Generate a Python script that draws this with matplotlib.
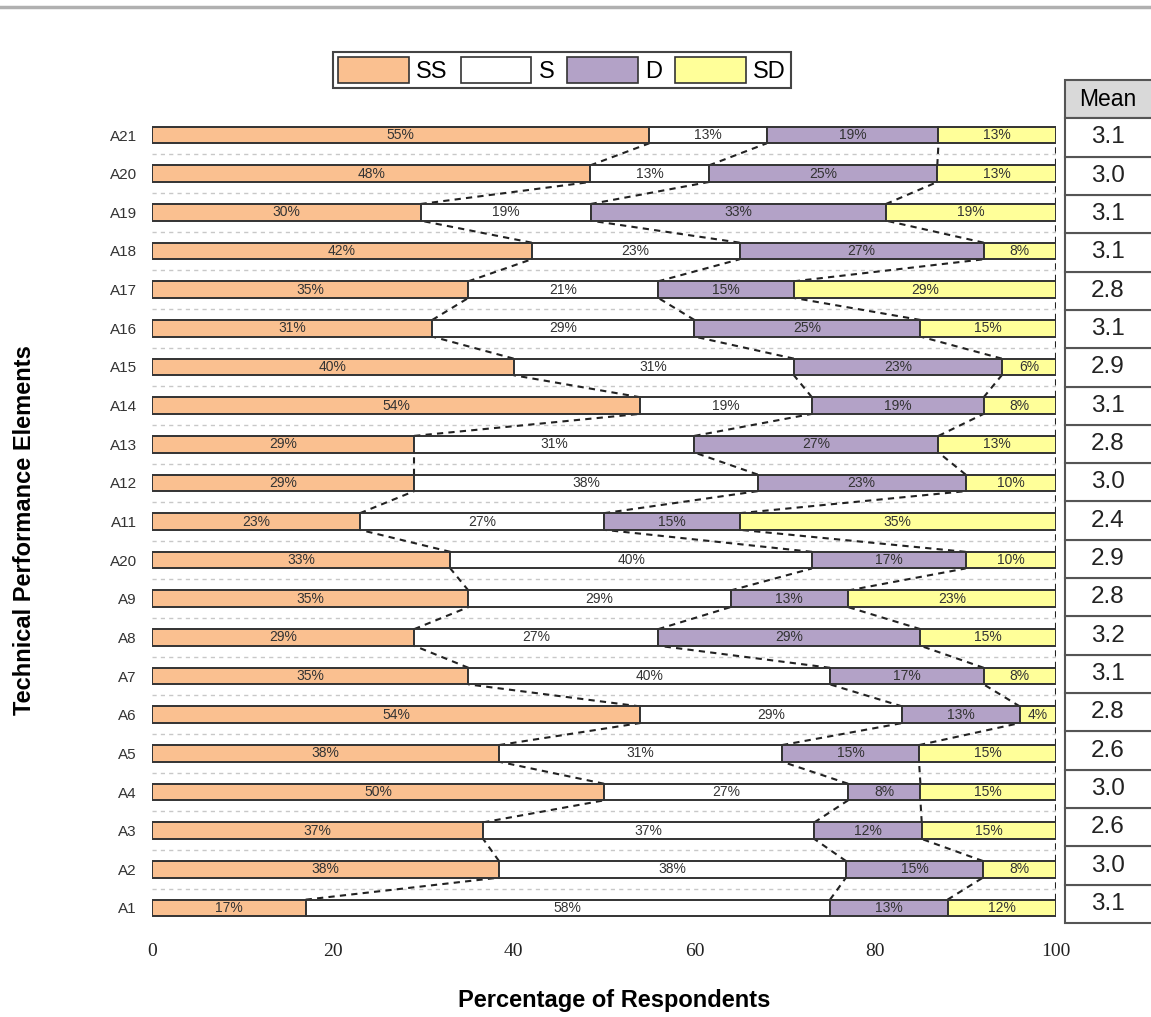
import numpy as np
import matplotlib
matplotlib.use('Agg')
import matplotlib.pyplot as plt
from matplotlib.patches import Rectangle, Patch
from matplotlib.lines import Line2D

# Donnees (de bas en haut : A1 -> A21)
elements = ['A1', 'A2', 'A3', 'A4', 'A5', 'A6', 'A7', 'A8', 'A9', 'A20',
            'A11', 'A12', 'A13', 'A14', 'A15', 'A16', 'A17', 'A18', 'A19', 'A20', 'A21']
ss = [17, 38, 37, 50, 38, 54, 35, 29, 35, 33, 23, 29, 29, 54, 40, 31, 35, 42, 30, 48, 55]
s = [58, 38, 37, 27, 31, 29, 40, 27, 29, 40, 27, 38, 31, 19, 31, 29, 21, 23, 19, 13, 13]
d = [13, 15, 12, 8, 15, 13, 17, 29, 13, 17, 15, 23, 27, 19, 23, 25, 15, 27, 33, 25, 19]
sd = [12, 8, 15, 15, 15, 4, 8, 15, 23, 10, 35, 10, 13, 8, 6, 15, 29, 8, 19, 13, 13]
moyennes = [3.1, 3.0, 2.6, 3.0, 2.6, 2.8, 3.1, 3.2, 2.8, 2.9, 2.4,
            3.0, 2.8, 3.1, 2.9, 3.1, 2.8, 3.1, 3.1, 3.0, 3.1]

categories = ['SS', 'S', 'D', 'SD']
couleurs = ['#FAC090', '#FFFFFF', '#B3A2C7', '#FFFF99']

W, H = 1151, 1017


def creer_graphe(nom_fichier_png):
    plt.rcParams['font.family'] = ['Liberation Sans', 'DejaVu Sans']
    fig = plt.figure(figsize=(W / 100, H / 100), dpi=100)

    # ligne grise en haut
    fig.add_artist(Line2D([0, 1], [1 - 7 / H, 1 - 7 / H], color='#b0b0b0', lw=2.5,
                          transform=fig.transFigure))

    bas, haut = 927.3, 115.7
    ax = fig.add_axes([152 / W, 1 - bas / H, 904 / W, (bas - haut) / H])

    valeurs = np.array([ss, s, d, sd], dtype=float).T
    valeurs = valeurs / valeurs.sum(axis=1, keepdims=True) * 100
    n = len(elements)
    y = np.arange(n)
    h = 0.43

    gauche = np.zeros(n)
    for k, cat in enumerate(categories):
        ax.barh(y, valeurs[:, k], left=gauche, height=h, color=couleurs[k],
                edgecolor='#333333', linewidth=1.4, zorder=3)
        brut = [ss, s, d, sd][k]
        for i in range(n):
            ax.text(gauche[i] + valeurs[i, k] / 2, y[i], f"{brut[i]}%", ha='center',
                    va='center', fontsize=10, color='#333333', zorder=4)
        gauche = gauche + valeurs[:, k]

    # lignes de liaison en pointilles
    cumul = np.cumsum(valeurs, axis=1)
    for k in range(4):
        for i in range(n - 1):
            ax.plot([cumul[i, k], cumul[i + 1, k]], [y[i] + h / 2, y[i + 1] - h / 2],
                    color='#222222', lw=1.5, ls=(0, (3, 2.5)), zorder=2)

    # grille horizontale
    for i in range(n - 1):
        ax.axhline(i + 0.5, color='#c8c8c8', lw=1, ls=(0, (3, 3)), zorder=1)

    ax.set_xlim(0, 100)
    ax.set_ylim(-0.5, n - 0.5)
    ax.set_yticks(y)
    ax.set_yticklabels(elements, fontsize=11, color='#333333')
    ax.set_xticks([0, 20, 40, 60, 80, 100])
    ax.set_xticklabels(['0', '20', '40', '60', '80', '100'], fontsize=14,
                       family='Liberation Serif', color='#222222')
    ax.tick_params(length=0)
    ax.tick_params(axis='y', pad=11)
    ax.tick_params(axis='x', pad=11)
    for sp in ax.spines.values():
        sp.set_visible(False)

    fig.text(614 / W, 1 - 1000 / H, 'Percentage of Respondents', ha='center', va='center',
             fontsize=17, fontweight='bold')
    fig.text(25 / W, 1 - 530 / H, 'Technical Performance Elements', ha='center', va='center',
             rotation=90, fontsize=17, fontweight='bold')

    # legende
    poignees = [Patch(facecolor=c, edgecolor='#333333', linewidth=1.2) for c in couleurs]
    leg = fig.legend(poignees, categories, loc='center', bbox_to_anchor=(562 / W, 1 - 70 / H),
                     ncol=4, fontsize=17, handlelength=3.0, handleheight=1.3,
                     handletextpad=0.3, columnspacing=0.55, borderpad=0.2,
                     borderaxespad=0, fancybox=False, edgecolor='#444444', framealpha=1)
    leg.get_frame().set_linewidth(1.5)

    # tableau des moyennes
    tx = fig.add_axes([1065 / W, 1 - 923 / H, 100 / W, (923 - 80) / H])
    tx.set_xlim(0, 100)
    tx.set_ylim(0, n + 1)
    tx.axis('off')
    tx.add_patch(Rectangle((0, n), 100, 1, facecolor='#d9d9d9', edgecolor='#555555',
                           lw=1.5, clip_on=False))
    tx.text(43, n + 0.5, 'Mean', ha='center', va='center', fontsize=16.5)
    for i in range(n):
        tx.add_patch(Rectangle((0, i), 100, 1, facecolor='white', edgecolor='#555555',
                               lw=1.5, clip_on=False))
        tx.text(43, i + 0.5, f"{moyennes[i]:.1f}", ha='center', va='center', fontsize=17.5,
                color='#222222')

    fig.savefig(nom_fichier_png, dpi=100, facecolor='white')
    plt.close(fig)


def main():
    creer_graphe('out.png')


if __name__ == "__main__":
    main()
